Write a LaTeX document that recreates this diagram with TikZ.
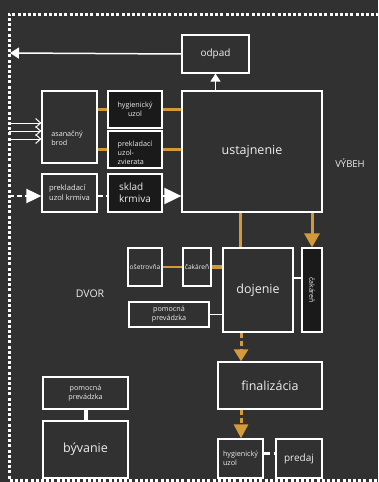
\documentclass[tikz,border=0pt]{standalone}
\usepackage{fontspec}
\setmainfont{Open Sans}
\usetikzlibrary{arrows.meta}
\definecolor{bgc}{HTML}{313131}
\definecolor{blk}{HTML}{191A19}
\definecolor{org}{HTML}{D4993A}
\definecolor{txt}{HTML}{EDEDED}
\tikzset{
  box/.style={draw=white, line width=1.3pt, fill=bgc, text=txt, inner sep=0pt, align=center},
  bbox/.style={box, fill=blk},
  sz/.style={font=\fontsize{7.2}{9}\selectfont},
  mz/.style={font=\fontsize{10}{12}\selectfont},
  lz/.style={font=\fontsize{12.5}{14}\selectfont},
  oline/.style={draw=org, line width=3pt},
  wline/.style={draw=white, line width=1.5pt},
  otri/.style={-{Triangle[length=14pt,width=15pt]}},
  wtri/.style={-{Triangle[length=15pt,width=14pt]}},
}
\begin{document}
\begin{tikzpicture}[x=1pt,y=-1pt]
\useasboundingbox[fill=bgc] (0,0) rectangle (378,482);
% dotted frame
\draw[white, line width=3pt, dash pattern=on 3pt off 2.2pt] (395,14) -- (9,14) -- (9,480) -- (395,480);
% boxes
\node[box, mz, minimum width=67pt, minimum height=38pt] (odpad) at (215.5,54) {odpad};
\node[box, minimum width=55pt, minimum height=72pt] (brod) at (69.5,127) {};
\node[sz, text=txt, align=left, inner sep=0pt] (brodt) at (67,138) {asanačný\\brod};
\node[bbox, sz, minimum width=54pt, minimum height=37pt] (hyg1) at (135,109.5) {hygienický\\uzol};
\node[bbox, sz, minimum width=54pt, minimum height=37pt, align=left] (prekz) at (135,149.5) {\\[3pt]prekladací\\uzol-\\zvierata};
\node[box, lz, minimum width=140pt, minimum height=121pt] (ustaj) at (252,151.5) {ustajnenie};
\node[box, font=\fontsize{7.6}{10}\selectfont, minimum width=55pt, minimum height=38pt, align=left] (prekk) at (69.5,193) {prekladací\\uzol krmiva};
\node[bbox, mz, minimum width=54pt, minimum height=38pt, align=left] (sklad) at (135,193) {sklad\\krmiva};
\node[box, font=\fontsize{6.6}{8}\selectfont, minimum width=34pt, minimum height=38pt] (osetr) at (145,267) {ošetrovňa};
\node[box, font=\fontsize{6.6}{8}\selectfont, minimum width=28pt, minimum height=38pt] (cak1) at (197,267) {čakáreň};
\node[box, lz, minimum width=70pt, minimum height=84pt] (doj) at (258,290) {dojenie};
\node[bbox, minimum width=20pt, minimum height=84pt] (cak2) at (312,290) {};
\node[text=txt, font=\fontsize{7}{8}\selectfont, rotate=-90] (cak2t) at (cak2.center) {čakáreň};
\node[box, sz, minimum width=80pt, minimum height=25pt] (pomoc1) at (169,314.5) {pomocná\\prevádzka};
\node[box, lz, minimum width=104pt, minimum height=47pt] (final) at (270,385.5) {finalizácia};
\node[box, sz, minimum width=45pt, minimum height=39pt, align=left] (hyg2) at (240.5,458.5) {hygienický\\uzol};
\node[box, mz, minimum width=46pt, minimum height=39pt] (predaj) at (299,458.5) {predaj};
\node[box, sz, minimum width=85pt, minimum height=32pt] (pomoc2) at (85.5,393) {pomocná\\prevádzka};
\node[box, lz, minimum width=85pt, minimum height=57pt] (byv) at (85.5,449.5) {bývanie};
% labels
\node[text=txt, font=\fontsize{9.5}{11}\selectfont] (vybeh) at (350,163) {VÝBEH};
\node[text=txt, font=\fontsize{10.5}{12}\selectfont] (dvor) at (90,294) {DVOR};
% frame coordinates
\coordinate (fodpad) at (10,53);
\coordinate (fa1) at (9,123);
\coordinate (fa2) at (9,131);
\coordinate (fa3) at (9,139);
\coordinate (fk) at (9,196);
% white connectors
\draw[wline, -{Triangle[length=9pt,width=11pt]}] (odpad.west) -- (fodpad);
\draw[wline, -{Triangle[length=8pt,width=10pt]}] (ustaj.north -| odpad.south) -- (odpad.south);
\foreach \c/\yy in {fa1/123,fa2/131,fa3/139}
  \draw[white, line width=1pt, -{Straight Barb[length=5pt,width=9pt]}] (\c) -- (brod.west |- 0,\yy);
\draw[white, line width=2pt, dash pattern=on 5pt off 3pt, wtri] (fk) -- (prekk.west |- fk);
\draw[white, line width=2pt, dash pattern=on 5pt off 3pt] (prekk.east |- fk) -- (sklad.west |- fk);
\draw[white, line width=2pt, -{Triangle[length=17pt,width=16pt]}] (sklad.east |- fk) -- (ustaj.west |- fk);
\draw[wline] (doj.east |- 0,278) -- (cak2.west |- 0,278);
\draw[wline] (pomoc1.east) -- (doj.west |- pomoc1.east);
\draw[white, line width=4pt] (pomoc2.south) -- (byv.north);
\draw[white, line width=3pt, dash pattern=on 6pt off 4pt] (hyg2.east |- 0,453) -- (predaj.west |- 0,453);
% orange connectors
\draw[oline] (brod.east |- hyg1.west) -- (hyg1.west);
\draw[oline] (hyg1.east) -- (ustaj.west |- hyg1.east);
\draw[oline] (brod.east |- prekz.west) -- (prekz.west);
\draw[oline] (prekz.east) -- (ustaj.west |- prekz.east);
\draw[oline] (ustaj.south -| 240,0) -- (doj.north -| 240,0);
\draw[oline, otri] (ustaj.south -| cak2.north) -- (cak2.north);
\draw[org, line width=2pt] (osetr.east) -- (cak1.west);
\draw[oline, line width=3.5pt] (cak1.east) -- (doj.west |- cak1.east);
\draw[org, line width=3pt, dash pattern=on 5pt off 3pt, -{Triangle[length=12pt,width=14pt]}] (doj.south -| 241,0) -- (final.north -| 241,0);
\draw[org, line width=3pt, dash pattern=on 5pt off 3pt, -{Triangle[length=14pt,width=14pt]}] (final.south -| 241,0) -- (hyg2.north -| 241,0);
\end{tikzpicture}
\end{document}
